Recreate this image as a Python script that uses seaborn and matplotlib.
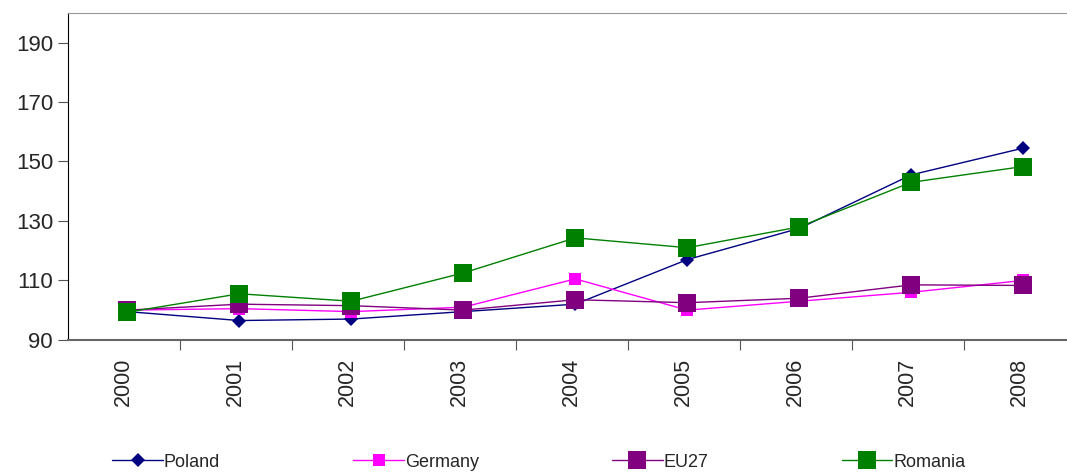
import numpy as np
import pandas as pd
import matplotlib.pyplot as plt
import matplotlib.transforms as mtransforms
import seaborn as sns

years = ['2000', '2001', '2002', '2003', '2004', '2005', '2006', '2007', '2008']
poland = [99.5, 96.5, 97.0, 99.5, 102.0, 117.0, 127.5, 145.5, 154.5]
germany = [100.0, 100.5, 99.5, 101.0, 110.5, 100.0, 103.0, 106.0, 110.0]
eu27 = [100.0, 102.0, 101.5, 100.0, 103.5, 102.5, 104.0, 108.5, 108.3]
romania = [99.3, 105.5, 103.0, 112.5, 124.3, 121.0, 128.0, 143.0, 148.3]

series = [
    ('Poland', poland, '#000080', 'D', 7),
    ('Germany', germany, '#FF00FF', 's', 9),
    ('EU27', eu27, '#800080', 's', 13.5),
    ('Romania', romania, '#008000', 's', 13.5),
]

sns.set_style("white")
plt.rcParams['font.family'] = ['Liberation Sans', 'DejaVu Sans']

fig = plt.figure(figsize=(10.67, 4.74), dpi=100)
ax = fig.add_axes([0.064, 0.283, 0.936, 0.69])

for name, vals, color, marker, ms in series:
    df = pd.DataFrame({'pos': np.arange(len(years)), 'value': vals})
    sns.lineplot(data=df, x='pos', y='value', color=color, marker=marker,
                 markersize=ms, markeredgewidth=0, linewidth=1.0,
                 label=name, ax=ax, legend=False)

ax.set_xlim(-0.527, 8.39)
ax.set_ylim(90, 200)
ax.set_yticks([90, 110, 130, 150, 170, 190])
ax.tick_params(axis='y', labelsize=16, length=7, color='#555555', direction='out', left=True, pad=4)

# separators between categories (Excel style)
ax.set_xticks(np.arange(len(years) - 1) + 0.473)
ax.set_xticklabels([])
ax.set_xticks(np.arange(len(years)), minor=True)
ax.set_xticklabels(years, minor=True, rotation=90, fontsize=15.5)
ax.tick_params(axis='x', which='major', length=7, color='#555555', direction='out', bottom=True)
ax.tick_params(axis='x', which='minor', length=0, pad=13)
shift = mtransforms.ScaledTranslation(-4 / 100, 0, fig.dpi_scale_trans)
for lbl in ax.get_xticklabels(minor=True):
    lbl.set_transform(lbl.get_transform() + shift)
ax.set_xlabel('')
ax.set_ylabel('')

ax.spines['left'].set_color('black')
ax.spines['bottom'].set_color('#666666')
ax.spines['bottom'].set_linewidth(1.5)
ax.spines['top'].set_color('#999999')
ax.spines['right'].set_visible(False)

handles, labels = ax.get_legend_handles_labels()
fig.legend(handles, labels, loc='center', bbox_to_anchor=(0.09, 0.0, 0.83, 0.05),
           mode='expand', ncol=4, frameon=False, fontsize=13,
           handlelength=2.8, handletextpad=0.05, markerscale=1.0)

fig.savefig('out.png', dpi=100)
